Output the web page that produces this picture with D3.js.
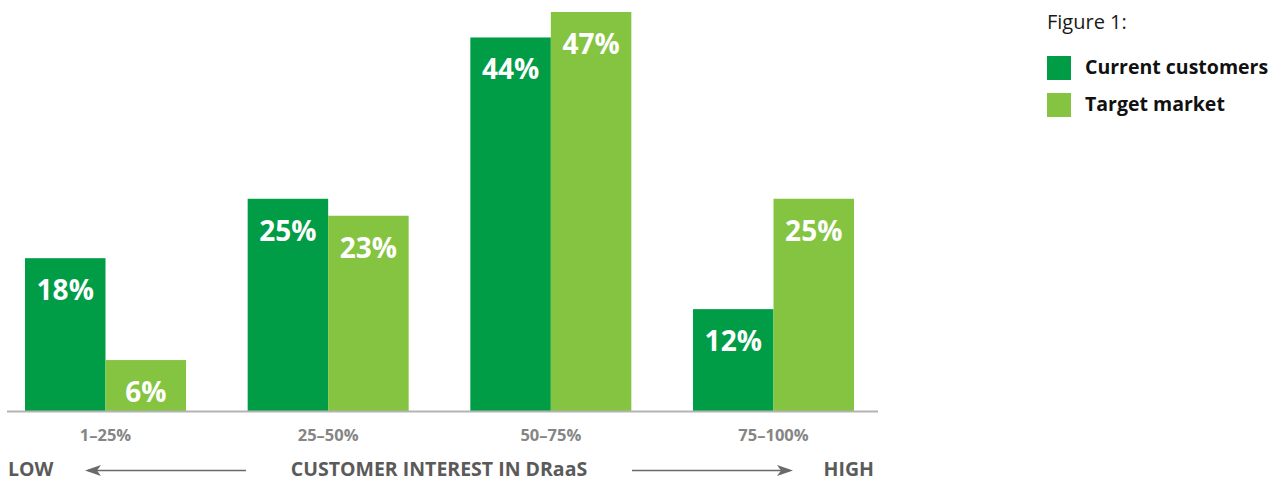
<!DOCTYPE html>
<html>
<head>
<meta charset="utf-8">
<script src="https://cdn.jsdelivr.net/npm/d3@7"></script>
<style>
  body { margin: 0; background: #fff; }
  text { font-family: "Open Sans", "DejaVu Sans", sans-serif; }
</style>
</head>
<body>
<div id="chart"></div>
<script>
// Data
const categories = ['1–25%', '25–50%', '50–75%', '75–100%'];
const seriesNames = ['Current customers', 'Target market'];
const currentCustomers = [18, 25, 44, 12];
const targetMarket = [6, 23, 47, 25];
const seriesColors = ['#009C46', '#84C441'];

const svg = d3.select('#chart')
  .append('svg')
  .attr('width', 1279)
  .attr('height', 481);

const baseline = 411;

// Scales
const x = d3.scaleBand()
  .domain(categories)
  .range([25, 854])
  .paddingInner(0.277)
  .paddingOuter(0);

const xInner = d3.scaleBand()
  .domain(seriesNames)
  .range([0, x.bandwidth()]);

const y = d3.scaleLinear()
  .domain([0, 47])
  .range([baseline, 12]);

const rows = categories.map((c, i) => ({
  cat: c,
  values: [
    { name: seriesNames[0], value: currentCustomers[i], color: seriesColors[0] },
    { name: seriesNames[1], value: targetMarket[i], color: seriesColors[1] }
  ]
}));

const groups = svg.selectAll('g.group')
  .data(rows)
  .enter()
  .append('g')
  .attr('class', 'group')
  .attr('transform', d => `translate(${x(d.cat)},0)`);

groups.selectAll('rect')
  .data(d => d.values)
  .enter()
  .append('rect')
  .attr('x', d => xInner(d.name))
  .attr('y', d => y(d.value))
  .attr('width', xInner.bandwidth())
  .attr('height', d => baseline - y(d.value))
  .attr('fill', d => d.color);

groups.selectAll('text.val')
  .data(d => d.values)
  .enter()
  .append('text')
  .attr('class', 'val')
  .attr('x', d => xInner(d.name) + xInner.bandwidth() / 2)
  .attr('y', d => y(d.value) + 42)
  .attr('text-anchor', 'middle')
  .attr('fill', '#fff')
  .style('font-size', '28px')
  .style('font-weight', 'bold')
  .text(d => d.value + '%');

// Axis line
svg.append('line')
  .attr('x1', 7).attr('x2', 878)
  .attr('y1', baseline + 0.5).attr('y2', baseline + 0.5)
  .attr('stroke', '#b3b3b3')
  .attr('stroke-width', 2);

// Category labels
svg.selectAll('text.cat')
  .data(categories)
  .enter()
  .append('text')
  .attr('class', 'cat')
  .attr('x', d => x(d) + x.bandwidth() / 2)
  .attr('y', 441)
  .attr('text-anchor', 'middle')
  .attr('fill', '#858585')
  .style('font-size', '16.5px')
  .style('font-weight', 'bold')
  .text(d => d);

// Bottom title with arrows
const bottom = svg.append('g').attr('fill', '#5a5a5a')
  .style('font-size', '19.5px').style('font-weight', 'bold');
bottom.append('text').attr('x', 8).attr('y', 476).text('LOW');
bottom.append('text').attr('x', 439).attr('y', 476).attr('text-anchor', 'middle')
  .text('CUSTOMER INTEREST IN DRaaS');
bottom.append('text').attr('x', 874).attr('y', 476).attr('text-anchor', 'end').text('HIGH');

const arrowY = 470.5;
svg.append('line')
  .attr('x1', 88).attr('x2', 246)
  .attr('y1', arrowY).attr('y2', arrowY)
  .attr('stroke', '#6a6a6a').attr('stroke-width', 1.5);
svg.append('path')
  .attr('d', `M85,${arrowY} L101,${arrowY - 5.5} L97,${arrowY} L101,${arrowY + 5.5} Z`)
  .attr('fill', '#6a6a6a');
svg.append('line')
  .attr('x1', 632).attr('x2', 790)
  .attr('y1', arrowY).attr('y2', arrowY)
  .attr('stroke', '#6a6a6a').attr('stroke-width', 1.5);
svg.append('path')
  .attr('d', `M793,${arrowY} L777,${arrowY - 5.5} L781,${arrowY} L777,${arrowY + 5.5} Z`)
  .attr('fill', '#6a6a6a');

// Legend
const legend = svg.append('g').attr('transform', 'translate(1047,0)');
legend.append('text')
  .attr('x', 0).attr('y', 29)
  .attr('fill', '#1a1a1a')
  .style('font-size', '20px')
  .text('Figure 1:');

const items = legend.selectAll('g.item')
  .data(seriesNames)
  .enter()
  .append('g')
  .attr('class', 'item')
  .attr('transform', (d, i) => `translate(0,${56 + i * 37})`);
items.append('rect')
  .attr('width', 24).attr('height', 24)
  .attr('fill', (d, i) => seriesColors[i]);
items.append('text')
  .attr('x', 38).attr('y', 18)
  .attr('fill', '#111')
  .style('font-size', '19.5px')
  .style('font-weight', 'bold')
  .text(d => d);
</script>
</body>
</html>
